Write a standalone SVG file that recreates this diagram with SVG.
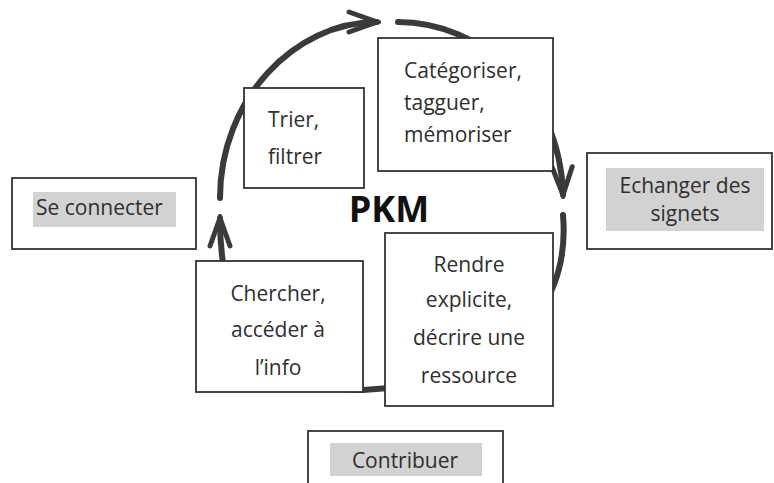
<svg xmlns="http://www.w3.org/2000/svg" width="774" height="483" viewBox="0 0 774 483">
  <defs>
    <marker id="arrow" markerUnits="userSpaceOnUse" viewBox="-34 -16 38 32" refX="0" refY="0" markerWidth="38" markerHeight="32" orient="auto">
      <path d="M-28,-10 L0,0 L-28,10" fill="none" stroke="#3a3a3a" stroke-width="5" stroke-linejoin="miter" stroke-linecap="round"/>
    </marker>
    <style>
      .arc { fill: none; stroke: #3a3a3a; stroke-width: 6; stroke-linecap: round; }
      .box { fill: #ffffff; stroke: #333333; stroke-width: 1.8; }
      .hl { fill: #d2d2d2; stroke: none; }
      .t { font-family: "Open Sans", "Noto Sans", sans-serif; font-size: 21px; fill: #2e2e2e; }
      .c { text-anchor: middle; }
      .pkm { font-family: "Open Sans", "Noto Sans", sans-serif; font-size: 36px; font-weight: bold; fill: #111111; text-anchor: middle; }
    </style>
  </defs>
  <rect x="0" y="0" width="774" height="483" fill="#ffffff"/>

  <g id="connectors">
    <path class="arc" d="M220,198 C220,100 294,22 377,22" marker-end="url(#arrow)"/>
    <path class="arc" d="M398,22 C480,22 560,90 563,195" marker-end="url(#arrow)"/>
    <path class="arc" d="M563,215 C572,320 490,385 363,390 C260,392 220,320 220,218" marker-end="url(#arrow)"/>
  </g>

  <g id="se-connecter">
    <rect class="box" x="12" y="178" width="184" height="71"/>
    <rect class="hl" x="33" y="192" width="143" height="35"/>
    <text class="t" x="36" y="215">Se connecter</text>
  </g>

  <g id="echanger">
    <rect class="box" x="587" y="153" width="185" height="96"/>
    <rect class="hl" x="606" y="168" width="158" height="63"/>
    <text class="t c" x="685" y="193">Echanger des</text>
    <text class="t c" x="685" y="221">signets</text>
  </g>

  <g id="trier">
    <rect class="box" x="244" y="88" width="120" height="100"/>
    <text class="t" x="268" y="127">Trier,</text>
    <text class="t" x="268" y="164">filtrer</text>
  </g>

  <g id="categoriser">
    <rect class="box" x="378" y="38" width="175" height="133"/>
    <text class="t" x="404" y="78">Catégoriser,</text>
    <text class="t" x="404" y="110">tagguer,</text>
    <text class="t" x="404" y="142">mémoriser</text>
  </g>

  <g id="pkm">
    <text class="pkm" x="389" y="222">PKM</text>
  </g>

  <g id="chercher">
    <rect class="box" x="196" y="261" width="167" height="131"/>
    <text class="t c" x="278" y="301">Chercher,</text>
    <text class="t c" x="278" y="337">accéder à</text>
    <text class="t c" x="278" y="375">l’info</text>
  </g>

  <g id="rendre">
    <rect class="box" x="385" y="233" width="168" height="173"/>
    <text class="t c" x="469" y="272">Rendre</text>
    <text class="t c" x="469" y="307">explicite,</text>
    <text class="t c" x="469" y="345">décrire une</text>
    <text class="t c" x="469" y="383">ressource</text>
  </g>

  <g id="contribuer">
    <rect class="box" x="308" y="431" width="195" height="60"/>
    <rect class="hl" x="330" y="443" width="152" height="33"/>
    <text class="t c" x="405" y="468">Contribuer</text>
  </g>
</svg>
